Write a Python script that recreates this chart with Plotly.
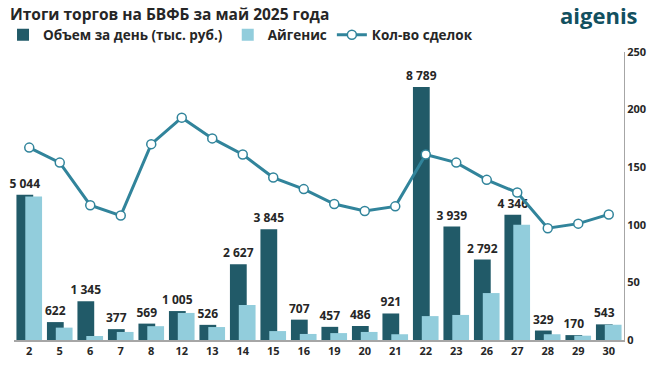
import plotly.graph_objects as go

days = ["2", "5", "6", "7", "8", "12", "13", "14", "15", "16",
        "19", "20", "21", "22", "23", "26", "27", "28", "29", "30"]
volume = [5044, 622, 1345, 377, 569, 1005, 526, 2627, 3845, 707,
          457, 486, 921, 8789, 3939, 2792, 4346, 329, 170, 543]
aigenis = [4980, 430, 140, 280, 480, 940, 450, 1215, 310, 210,
           240, 280, 200, 830, 870, 1630, 4000, 200, 150, 530]
deals = [167, 154, 117, 108, 170, 193, 175, 161, 141, 131,
         118, 112, 116, 161, 154, 139, 128, 97, 101, 109]

DARK = "#215A68"
LIGHT = "#92CDDC"
LINE = "#31849B"
TXT = "#262626"
FONT = "Open Sans"

labels = [f"{v:,}".replace(",", " ") for v in volume]

fig = go.Figure()
fig.add_trace(go.Bar(
    x=days, y=volume, name="Объем за день (тыс. руб.)",
    marker=dict(color=DARK, line=dict(width=0)),
    width=0.55, offset=-0.42,
    text=labels, textposition="outside", cliponaxis=False,
    constraintext="none",
    textfont=dict(family=FONT, size=12, color=TXT, weight="bold"),
    yaxis="y",
))
fig.add_trace(go.Bar(
    x=days, y=aigenis, name="Айгенис",
    marker=dict(color=LIGHT, line=dict(width=0)),
    width=0.55, offset=-0.13,
    yaxis="y",
))
fig.add_trace(go.Scatter(
    x=days, y=deals, name="Кол-во сделок", mode="lines+markers",
    line=dict(color=LINE, width=3),
    marker=dict(size=9, color="white", line=dict(color=LINE, width=1.5)),
    yaxis="y2", cliponaxis=False,
))

fig.update_layout(
    width=667, height=369,
    margin=dict(l=14, r=43, t=52, b=29, autoexpand=False),
    paper_bgcolor="white", plot_bgcolor="white",
    barmode="overlay",
    font=dict(family=FONT, color=TXT),
    title=dict(text="<b>Итоги торгов на БВФБ за май 2025 года</b>",
               x=0.015, xanchor="left", y=0.96, yanchor="middle",
               font=dict(size=15.5, color=TXT, family=FONT)),
    showlegend=True,
    legend=dict(orientation="h", x=-0.018, xanchor="left", y=1.005,
                yanchor="bottom", yref="paper",
                font=dict(size=13.5, color=TXT, family=FONT, weight="bold"),
                itemwidth=30, tracegroupgap=0, bgcolor="rgba(0,0,0,0)"),
    xaxis=dict(type="category", range=[-0.5, 19.5], showline=True,
               linecolor="#A6A6A6", linewidth=1.5, ticks="", showgrid=False,
               automargin=False,
               tickfont=dict(size=11, color=TXT, family=FONT, weight="bold")),
    yaxis=dict(range=[0, 10000], visible=False, showgrid=False),
    yaxis2=dict(range=[0, 250], dtick=50, overlaying="y", side="right",
                showgrid=False, showline=True, linecolor="#A6A6A6",
                linewidth=1, ticks="", zeroline=False, automargin=False,
                tickfont=dict(size=11, color=TXT, family=FONT, weight="bold")),
)
fig.add_annotation(text="<b>aigenis</b>", xref="paper", yref="paper",
                   x=1.027, y=1.127, xanchor="right", yanchor="middle",
                   showarrow=False,
                   font=dict(size=22, color="#12505F", family=FONT))

fig.write_html("out.html",
               config={"displayModeBar": False},
               post_script="document.body.style.margin='0';"
                           "document.body.style.padding='0';")
